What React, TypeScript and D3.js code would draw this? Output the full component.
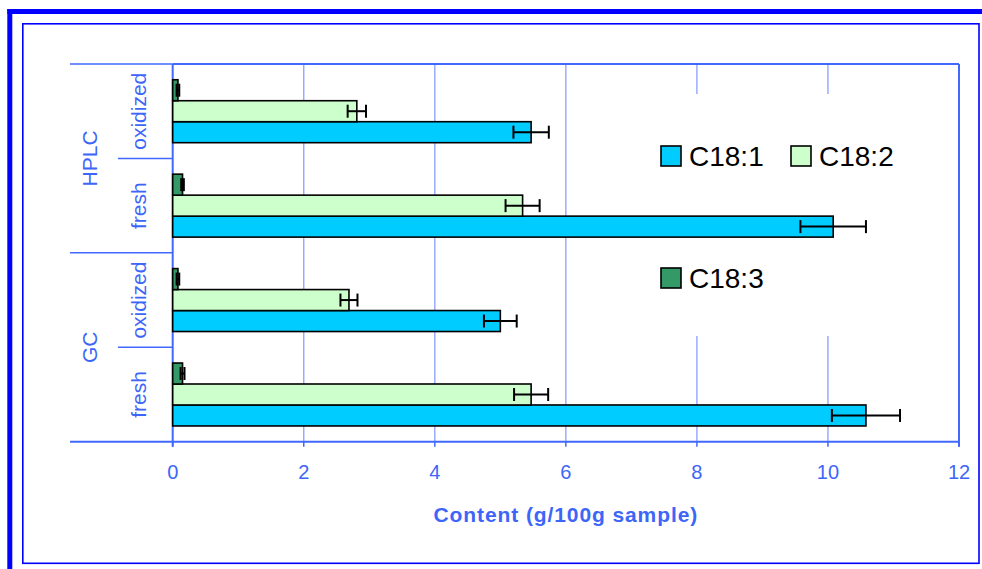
import React from "react";
import * as d3 from "d3";

// Fatty acid content per method and sample state (g/100g sample)
const methods = ["GC", "GC", "HPLC", "HPLC"];
const states = ["fresh", "oxidized", "fresh", "oxidized"];
const seriesNames = ["C18:1", "C18:2", "C18:3"];
const c181 = [10.58, 5.0, 10.08, 5.47];
const c181Err = [0.52, 0.25, 0.5, 0.27];
const c182 = [5.47, 2.69, 5.34, 2.81];
const c182Err = [0.26, 0.13, 0.26, 0.14];
const c183 = [0.15, 0.08, 0.15, 0.08];
const c183Err = [0.03, 0.02, 0.02, 0.02];
const xTicks = [0, 2, 4, 6, 8, 10, 12];

const seriesColors: Record<string, string> = {
  "C18:1": "#00ccff",
  "C18:2": "#ccffcc",
  "C18:3": "#339966",
};

const W = 982;
const H = 569;
const plot = { left: 172.7, right: 959, top: 64, bottom: 441.7 };
const axisBlue = "#4169ff";
const gridBlue = "#93a6ff";
const textBlue = "#3d66f8";
const font = "'Liberation Sans', Arial, sans-serif";

const values = [c181, c182, c183];
const errors = [c181Err, c182Err, c183Err];

export default function App() {
  const keys = methods.map((m, i) => `${m} ${states[i]}`);
  // categories drawn top to bottom in reverse order
  const y = d3
    .scaleBand<string>()
    .domain([...keys].reverse())
    .range([plot.top, plot.bottom])
    .padding(0);
  const inner = d3
    .scaleBand<string>()
    .domain([...seriesNames].reverse())
    .range([0, y.bandwidth()])
    .paddingInner(0)
    .paddingOuter(0.75);
  const x = d3.scaleLinear().domain([0, 12]).range([plot.left, plot.right]);

  const bars = keys.flatMap((k, i) =>
    seriesNames.map((s, si) => ({
      key: k,
      series: s,
      value: values[si][i],
      err: errors[si][i],
      y0: (y(k) as number) + (inner(s) as number),
    }))
  );

  const groups = Array.from(new Set(methods)).map((m) => {
    const ks = keys.filter((_, i) => methods[i] === m);
    const ys = ks.map((k) => y(k) as number);
    const top = Math.min(...ys);
    const bottom = Math.max(...ys) + y.bandwidth();
    return { m, top, bottom };
  });

  const bh = inner.bandwidth();
  const legend = [
    { s: "C18:1", x: 661, y: 146 },
    { s: "C18:2", x: 791, y: 146 },
    { s: "C18:3", x: 661, y: 268 },
  ];

  return (
    <svg
      width={W}
      height={H}
      style={{ position: "absolute", left: 0, top: 0, background: "#fff" }}
      fontFamily={font}
    >
      {/* outer frame */}
      <rect x={7.3} y={9} width={W} height={H} fill="none" />
      <line x1={9.8} y1={9} x2={9.8} y2={H} stroke="#0000ff" strokeWidth={5} />
      <line x1={7.3} y1={11.5} x2={W} y2={11.5} stroke="#0000ff" strokeWidth={5} />
      <rect x={22.8} y={23.8} width={979 - 22.8} height={563.3 - 23.8} fill="none" stroke="#0000ff" strokeWidth={1.6} />

      {/* gridlines */}
      {xTicks.slice(1, -1).map((t) => (
        <line key={t} x1={x(t)} x2={x(t)} y1={plot.top} y2={plot.bottom} stroke={gridBlue} strokeWidth={1.4} />
      ))}

      {/* legend background */}
      <rect x={640} y={94} width={315} height={242} fill="#fff" />

      {/* plot border and axis */}
      <line x1={plot.left} x2={plot.right} y1={plot.top} y2={plot.top} stroke={axisBlue} strokeWidth={2} />
      <line x1={plot.right} x2={plot.right} y1={plot.top} y2={plot.bottom + 5} stroke={axisBlue} strokeWidth={2} />
      <line x1={plot.left} x2={plot.left} y1={plot.top} y2={plot.bottom + 5} stroke={axisBlue} strokeWidth={2} />
      <line x1={70} x2={plot.right} y1={plot.bottom} y2={plot.bottom} stroke={axisBlue} strokeWidth={2} />
      {xTicks.map((t) => (
        <g key={t}>
          <line x1={x(t)} x2={x(t)} y1={plot.bottom} y2={plot.bottom + 5} stroke={axisBlue} strokeWidth={1.5} />
          <text x={x(t)} y={479.3} textAnchor="middle" fontSize={20} fill={textBlue}>
            {t}
          </text>
        </g>
      ))}
      <text
        x={(plot.left + plot.right) / 2}
        y={521.7}
        textAnchor="middle"
        fontSize={21}
        fontWeight="bold"
        letterSpacing={0.9}
        fill={textBlue}
      >
        Content (g/100g sample)
      </text>

      {/* category axis: separators and labels */}
      {groups.map((g) => (
        <g key={g.m}>
          <line x1={70} x2={plot.left} y1={g.top} y2={g.top} stroke={axisBlue} strokeWidth={1.5} />
          <text
            transform={`translate(97.3,${(g.top + g.bottom) / 2}) rotate(-90)`}
            textAnchor="middle"
            fontSize={21}
            fill={textBlue}
          >
            {g.m}
          </text>
        </g>
      ))}
      {keys.map((k, i) => {
        const top = y(k) as number;
        const isGroupTop = groups.some((g) => Math.abs(g.top - top) < 0.5);
        return (
          <g key={k}>
            {!isGroupTop && (
              <line x1={118} x2={plot.left} y1={top} y2={top} stroke={axisBlue} strokeWidth={1.5} />
            )}
            <text
              transform={`translate(146,${top + y.bandwidth() / 2}) rotate(-90)`}
              textAnchor="middle"
              fontSize={21}
              fill={textBlue}
            >
              {states[i]}
            </text>
          </g>
        );
      })}

      {/* bars */}
      {bars.map((b) => (
        <rect
          key={b.key + b.series}
          x={x(0)}
          y={b.y0}
          width={x(b.value) - x(0)}
          height={bh}
          fill={seriesColors[b.series]}
          stroke="#000"
          strokeWidth={1.6}
        />
      ))}

      {/* error bars */}
      {bars.map((b) => {
        const cy = b.y0 + bh / 2;
        const lo = x(b.value - b.err);
        const hi = x(b.value + b.err);
        return (
          <g key={"e" + b.key + b.series} stroke="#000" strokeWidth={2}>
            <line x1={lo} x2={hi} y1={cy} y2={cy} />
            <line x1={lo} x2={lo} y1={cy - 6.5} y2={cy + 6.5} />
            <line x1={hi} x2={hi} y1={cy - 6.5} y2={cy + 6.5} />
          </g>
        );
      })}

      {/* legend */}
      {legend.map((l) => (
        <g key={l.s}>
          <rect x={l.x} y={l.y} width={20} height={20} fill={seriesColors[l.s]} stroke="#000" strokeWidth={1.6} />
          <text x={l.x + 28} y={l.y + 19.5} fontSize={28} fill="#000">
            {l.s}
          </text>
        </g>
      ))}
    </svg>
  );
}
